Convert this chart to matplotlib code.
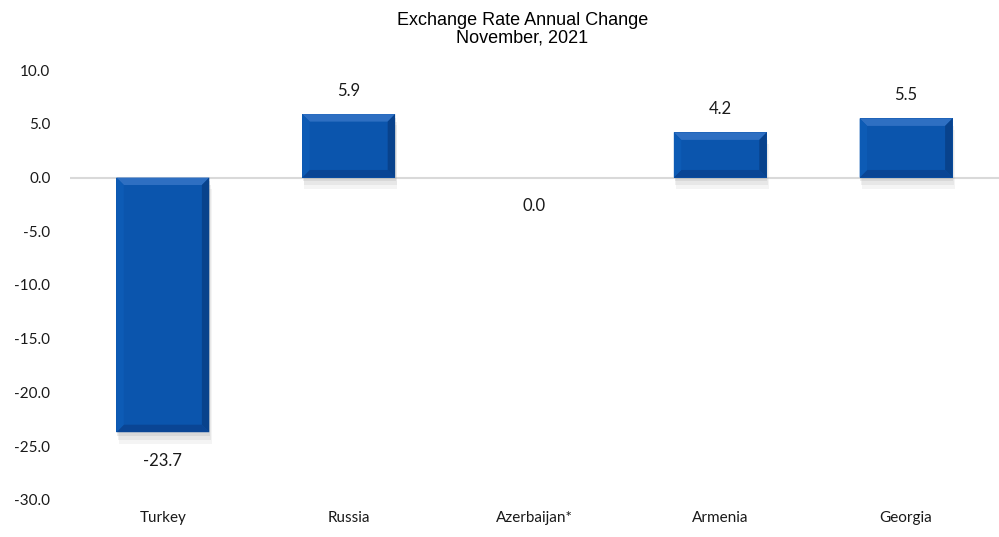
import matplotlib
matplotlib.use("Agg")
import matplotlib.pyplot as plt
from matplotlib.patches import Polygon, Rectangle

categories = ["Turkey", "Russia", "Azerbaijan*", "Armenia", "Georgia"]
values = [-23.7, 5.9, 0.0, 4.2, 5.5]
yticks = [10.0, 5.0, 0.0, -5.0, -10.0, -15.0, -20.0, -25.0, -30.0]

fig = plt.figure(figsize=(9.99, 5.37), dpi=100)
ax = fig.add_axes([0.07, 0.069, 0.93, 0.8006])
ax.set_xlim(-0.5, len(categories) - 0.5)
ax.set_ylim(-30, 10)

width = 0.5
face = "#0b55ad"
x = list(range(len(categories)))
bars = ax.bar(x, values, width=width, color=face, edgecolor="none", linewidth=0, zorder=3)

# shadow + bevel effects
for b, v in zip(bars, values):
    if v == 0:
        continue
    x0, w = b.get_x(), b.get_width()
    ylo = min(b.get_y(), b.get_y() + b.get_height())
    yhi = max(b.get_y(), b.get_y() + b.get_height())
    # soft shadow
    for k, a in enumerate([0.18, 0.14, 0.10]):
        ax.add_patch(Rectangle((x0 + 0.004 * (k + 1), ylo - 0.35 * (k + 1)), w, yhi - ylo,
                               facecolor="#9a9a9a", alpha=a, edgecolor="none", zorder=2))
    dx = 0.04
    dy = 0.7
    # top bevel (lighter)
    ax.add_patch(Polygon([(x0, yhi), (x0 + w, yhi), (x0 + w - dx, yhi - dy), (x0 + dx, yhi - dy)],
                         closed=True, facecolor="#2e6fc2", edgecolor="none", zorder=4))
    # bottom bevel (darker)
    ax.add_patch(Polygon([(x0, ylo), (x0 + w, ylo), (x0 + w - dx, ylo + dy), (x0 + dx, ylo + dy)],
                         closed=True, facecolor="#0a4594", edgecolor="none", zorder=4))
    # left bevel
    ax.add_patch(Polygon([(x0, ylo), (x0, yhi), (x0 + dx, yhi - dy), (x0 + dx, ylo + dy)],
                         closed=True, facecolor="#0d5bb5", edgecolor="none", zorder=4))
    # right bevel
    ax.add_patch(Polygon([(x0 + w, ylo), (x0 + w, yhi), (x0 + w - dx, yhi - dy), (x0 + w - dx, ylo + dy)],
                         closed=True, facecolor="#08428c", edgecolor="none", zorder=4))

ax.axhline(0, color="#d9d9d9", linewidth=1.5, zorder=1)

for xi, v in zip(x, values):
    if v > 0:
        ax.annotate(f"{v:.1f}", (xi, v), xytext=(0, 11), textcoords="offset points",
                    ha="center", va="bottom", fontsize=12, family="Lato", color="#1a1a1a")
    else:
        ax.annotate(f"{v:.1f}", (xi, v), xytext=(0, -15), textcoords="offset points",
                    ha="center", va="top", fontsize=12, family="Lato", color="#1a1a1a")

ax.set_xticks(x)
ax.set_xticklabels(categories, fontsize=11, family="Lato", color="#1a1a1a")
ax.set_yticks(yticks)
ax.set_yticklabels([f"{t:.1f}" for t in yticks], fontsize=11, family="Lato", color="#1a1a1a")
ax.tick_params(axis="both", length=0)
ax.tick_params(axis="y", pad=14)
ax.tick_params(axis="x", pad=8)
for s in ax.spines.values():
    s.set_visible(False)

fig.text(0.523, 0.945, "Exchange Rate Annual Change\nNovember, 2021", ha="center", va="center",
         fontsize=13, family="Liberation Sans", linespacing=1.05, color="black")

fig.savefig("out.png", dpi=100)
